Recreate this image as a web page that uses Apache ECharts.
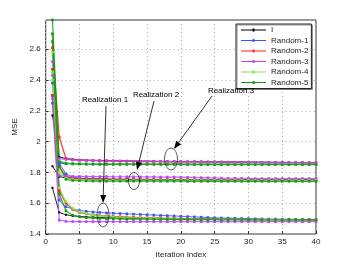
<!DOCTYPE html>
<html><head><meta charset="utf-8">
<script src="https://cdn.jsdelivr.net/npm/echarts@6/dist/echarts.min.js"></script>
<style>html,body{margin:0;padding:0;background:#fff}#c{width:350px;height:264px}</style>
</head><body><div id="c"></div>
<script>
const iters = [1,2,3,4,5,6,7,8,9,10,11,12,13,14,15,16,17,18,19,20,21,22,23,24,25,26,27,28,29,30,31,32,33,34,35,36,37,38,39,40];
const seriesNames = ['I','Random-1','Random-2','Random-3','Random-4','Random-5'];
const xTicks = [0,5,10,15,20,25,30,35,40];
const yTicks = [1.4,1.6,1.8,2,2.2,2.4,2.6];

// Realization 3 (top group)
const I_r3 = [2.17,1.90,1.89,1.885,1.882,1.880,1.879,1.878,1.877,1.876, 1.875,1.875,1.874,1.874,1.873,1.873,1.872,1.872,1.871,1.871, 1.870,1.870,1.870,1.869,1.869,1.869,1.868,1.868,1.868,1.867, 1.867,1.867,1.866,1.866,1.866,1.865,1.865,1.865,1.864,1.864];
const R1_r3 = [2.38,1.86,1.857,1.856,1.856,1.855,1.855,1.855,1.855,1.855, 1.855,1.855,1.855,1.855,1.855,1.855,1.855,1.855,1.855,1.855, 1.855,1.855,1.855,1.855,1.855,1.855,1.855,1.855,1.855,1.855, 1.855,1.855,1.855,1.855,1.855,1.855,1.855,1.855,1.855,1.855];
const R2_r3 = [2.61,2.03,1.89,1.882,1.879,1.877,1.876,1.875,1.874,1.873, 1.873,1.872,1.872,1.871,1.871,1.870,1.870,1.869,1.869,1.868, 1.868,1.868,1.867,1.867,1.867,1.866,1.866,1.866,1.865,1.865, 1.865,1.864,1.864,1.864,1.863,1.863,1.863,1.862,1.862,1.862];
const R3_r3 = [2.52,1.89,1.884,1.881,1.879,1.878,1.877,1.876,1.875,1.874, 1.874,1.873,1.873,1.872,1.872,1.871,1.871,1.870,1.870,1.869, 1.869,1.869,1.868,1.868,1.867,1.867,1.867,1.866,1.866,1.866, 1.865,1.865,1.865,1.864,1.864,1.864,1.863,1.863,1.863,1.862];
const R4_r3 = [2.58,1.875,1.862,1.859,1.858,1.857,1.857,1.856,1.856,1.856, 1.856,1.855,1.855,1.855,1.855,1.855,1.855,1.855,1.854,1.854, 1.854,1.854,1.854,1.854,1.854,1.854,1.854,1.854,1.854,1.854, 1.854,1.854,1.853,1.853,1.853,1.853,1.853,1.853,1.853,1.853];
const R5_r3 = [2.79,1.87,1.858,1.855,1.854,1.853,1.853,1.852,1.852,1.852, 1.852,1.852,1.852,1.852,1.852,1.852,1.852,1.852,1.852,1.852, 1.851,1.851,1.851,1.851,1.851,1.851,1.851,1.851,1.851,1.851, 1.851,1.851,1.851,1.851,1.851,1.851,1.851,1.851,1.851,1.851];

// Realization 2 (middle group)
const I_r2 = [1.84,1.772,1.765,1.762,1.760,1.759,1.758,1.757,1.757,1.756, 1.756,1.756,1.755,1.755,1.755,1.755,1.754,1.754,1.754,1.754, 1.754,1.753,1.753,1.753,1.753,1.753,1.753,1.752,1.752,1.752, 1.752,1.752,1.752,1.752,1.752,1.752,1.752,1.752,1.752,1.752];
const R1_r2 = [2.30,1.86,1.79,1.770,1.763,1.760,1.758,1.757,1.756,1.755, 1.754,1.754,1.753,1.753,1.752,1.752,1.751,1.751,1.751,1.750, 1.750,1.750,1.750,1.749,1.749,1.749,1.749,1.749,1.748,1.748, 1.748,1.748,1.748,1.748,1.748,1.748,1.748,1.748,1.748,1.748];
const R2_r2 = [2.47,1.84,1.775,1.762,1.758,1.756,1.755,1.754,1.754,1.753, 1.753,1.753,1.752,1.752,1.752,1.752,1.751,1.751,1.751,1.751, 1.751,1.750,1.750,1.750,1.750,1.750,1.750,1.750,1.750,1.750, 1.750,1.750,1.750,1.750,1.750,1.750,1.750,1.750,1.750,1.750];
const R3_r2 = [2.43,1.78,1.775,1.774,1.774,1.773,1.773,1.773,1.773,1.772, 1.772,1.772,1.772,1.771,1.771,1.771,1.770,1.770,1.770,1.769, 1.768,1.767,1.766,1.765,1.764,1.763,1.762,1.762,1.761,1.761, 1.760,1.760,1.760,1.760,1.760,1.760,1.760,1.760,1.760,1.760];
const R4_r2 = [2.45,1.80,1.762,1.755,1.752,1.751,1.750,1.750,1.749,1.749, 1.749,1.749,1.748,1.748,1.748,1.748,1.748,1.748,1.748,1.748, 1.748,1.748,1.748,1.748,1.748,1.748,1.748,1.748,1.748,1.748, 1.748,1.748,1.748,1.748,1.748,1.748,1.748,1.748,1.748,1.748];
const R5_r2 = [2.70,1.84,1.755,1.748,1.746,1.745,1.744,1.744,1.743,1.743, 1.743,1.743,1.743,1.743,1.743,1.743,1.743,1.743,1.743,1.743, 1.742,1.742,1.742,1.742,1.742,1.742,1.742,1.742,1.742,1.742, 1.742,1.742,1.742,1.742,1.742,1.742,1.742,1.742,1.742,1.742];

// Realization 1 (bottom group)
const I_r1 = [1.70,1.54,1.525,1.518,1.514,1.511,1.509,1.507,1.506,1.505, 1.504,1.503,1.502,1.502,1.501,1.500,1.500,1.499,1.499,1.498, 1.498,1.497,1.497,1.497,1.496,1.496,1.496,1.495,1.495,1.495, 1.495,1.494,1.494,1.494,1.494,1.493,1.493,1.493,1.493,1.493];
const R1_r1 = [2.25,1.62,1.578,1.562,1.553,1.547,1.543,1.540,1.537,1.535, 1.533,1.531,1.529,1.527,1.525,1.523,1.521,1.519,1.517,1.515, 1.513,1.511,1.509,1.507,1.505,1.504,1.503,1.502,1.501,1.500, 1.499,1.498,1.497,1.497,1.496,1.496,1.495,1.495,1.495,1.494];
const R2_r1 = [2.30,1.68,1.60,1.56,1.540,1.530,1.524,1.520,1.517,1.514, 1.512,1.510,1.508,1.506,1.505,1.504,1.503,1.502,1.501,1.500, 1.499,1.498,1.497,1.497,1.496,1.496,1.495,1.495,1.494,1.494, 1.494,1.493,1.493,1.493,1.492,1.492,1.492,1.492,1.491,1.491];
const R3_r1 = [2.28,1.49,1.482,1.481,1.480,1.480,1.480,1.480,1.480,1.480, 1.480,1.480,1.480,1.480,1.480,1.480,1.480,1.480,1.480,1.480, 1.480,1.480,1.480,1.480,1.480,1.480,1.480,1.480,1.480,1.480, 1.480,1.480,1.480,1.480,1.480,1.480,1.480,1.480,1.480,1.480];
const R4_r1 = [2.40,1.70,1.61,1.565,1.545,1.532,1.524,1.518,1.514,1.511, 1.508,1.506,1.504,1.503,1.502,1.501,1.500,1.499,1.498,1.497, 1.496,1.496,1.495,1.495,1.494,1.494,1.493,1.493,1.493,1.492, 1.492,1.492,1.492,1.492,1.492,1.491,1.491,1.491,1.491,1.491];
const R5_r1 = [2.65,1.66,1.55,1.522,1.511,1.506,1.503,1.501,1.500,1.499, 1.498,1.497,1.497,1.496,1.496,1.495,1.495,1.495,1.494,1.494, 1.494,1.493,1.493,1.493,1.493,1.492,1.492,1.492,1.492,1.492, 1.491,1.491,1.491,1.491,1.491,1.491,1.491,1.491,1.491,1.491];

const groups = [
  [I_r3, R1_r3, R2_r3, R3_r3, R4_r3, R5_r3],
  [I_r2, R1_r2, R2_r2, R3_r2, R4_r2, R5_r2],
  [I_r1, R1_r1, R2_r1, R3_r1, R4_r1, R5_r1]
];
const annotations = ['Realization 1','Realization 2','Realization 3'];

const colors = {'I':'#000000','Random-1':'#3355ff','Random-2':'#ff2020','Random-3':'#c044ff','Random-4':'#77ee44','Random-5':'#119911'};
const widths = {'I':1,'Random-1':1,'Random-2':1.3,'Random-3':1.2,'Random-4':1.2,'Random-5':1.2};

const series = [];
groups.forEach(g => {
  g.forEach((vals, k) => {
    const nm = seriesNames[k];
    series.push({
      type:'line', name:nm,
      data: iters.map((x,i)=>[x, vals[i]]),
      symbol:'rect', symbolSize: nm==='I'?2:2.6,
      itemStyle:{color:colors[nm]},
      lineStyle:{color:colors[nm], width:widths[nm], opacity:0.85},
      emphasis:{disabled:true}, silent:true, animation:false
    });
  });
});

function arrow(x1,y1,x2,y2){
  const a = Math.atan2(y2-y1, x2-x1), L=8, W=3;
  const bx = x2 - L*Math.cos(a), by = y2 - L*Math.sin(a);
  const px = -Math.sin(a)*W, py = Math.cos(a)*W;
  return [
    {type:'line', z:200, shape:{x1:x1,y1:y1,x2:bx,y2:by}, style:{stroke:'#000', lineWidth:0.8}, silent:true},
    {type:'polygon', z:200, shape:{points:[[x2,y2],[bx+px,by+py],[bx-px,by-py]]}, style:{fill:'#000'}, silent:true}
  ];
}
function ell(cx,cy,rx,ry){
  return {type:'circle', z:200, x:cx, y:cy, scaleX:rx/ry, shape:{cx:0,cy:0,r:ry}, style:{fill:null, stroke:'#000', lineWidth:0.8, strokeNoScale:true}, silent:true};
}
function label(txt,x,y){
  return {type:'text', z:200, x:x, y:y, style:{text:txt, fill:'#000', font:'8px "Liberation Sans", Arial, sans-serif', textAlign:'center', textVerticalAlign:'middle'}, silent:true};
}
const graphics = [].concat(
  [label(annotations[0],105,100)], arrow(106,106,103,203), [ell(103,215,6,12)],
  [label(annotations[1],156,95)], arrow(154,101,137,170), [ell(134,181,5.5,8.5)],
  [label(annotations[2],231,91)], arrow(212,96,174,149), [ell(171,159,6.5,11)]
);

const legendIcon = 'path://M0,2.5 h25 v1 h-25 z M11.5,1.5 h2 v3 h-2 z';

const chart = echarts.init(document.getElementById('c'), null, {renderer:'canvas'});
const font = '"Liberation Sans", Arial, sans-serif';
chart.setOption({
  animation:false,
  backgroundColor:'#fff',
  textStyle:{fontFamily:font},
  grid:{left:45.7, right:34, top:20, bottom:30, show:true, borderColor:'#333', borderWidth:1, backgroundColor:'#fff'},
  xAxis:{type:'value', min:xTicks[0], max:xTicks[xTicks.length-1], interval:5,
    name:'Iteration Index', nameLocation:'middle', nameGap:17, nameTextStyle:{fontSize:8, color:'#222', fontFamily:font},
    axisLine:{show:false}, axisTick:{show:true, inside:true, length:3, lineStyle:{color:'#333'}},
    axisLabel:{fontSize:8, color:'#222', margin:4, fontFamily:font},
    splitLine:{show:true, lineStyle:{color:'#aaa', type:[1,3], width:1}}},
  yAxis:{type:'value', min:yTicks[0], max:2.79, interval:0.2,
    name:'MSE', nameLocation:'middle', nameGap:21, nameTextStyle:{fontSize:8, color:'#222', fontFamily:font},
    axisLine:{show:false}, axisTick:{show:true, inside:true, length:3, lineStyle:{color:'#333'}},
    axisLabel:{fontSize:8, color:'#222', margin:5, fontFamily:font, showMaxLabel:false},
    splitLine:{show:true, lineStyle:{color:'#aaa', type:[1,3], width:1}}},
  legend:{data:seriesNames.map(n=>({name:n, icon:legendIcon})), orient:'vertical', left:236, top:24,
    padding:[2,3,2,5], itemWidth:25, itemHeight:6, itemGap:2.5, symbolKeepAspect:true,
    backgroundColor:'#fff', borderColor:'#222', borderWidth:1,
    shadowColor:'rgba(0,0,0,0.4)', shadowOffsetX:1, shadowOffsetY:1, shadowBlur:0,
    textStyle:{fontSize:8, color:'#222', fontFamily:font}, selectedMode:false},
  series: series,
  graphic: graphics
});
</script></body></html>
